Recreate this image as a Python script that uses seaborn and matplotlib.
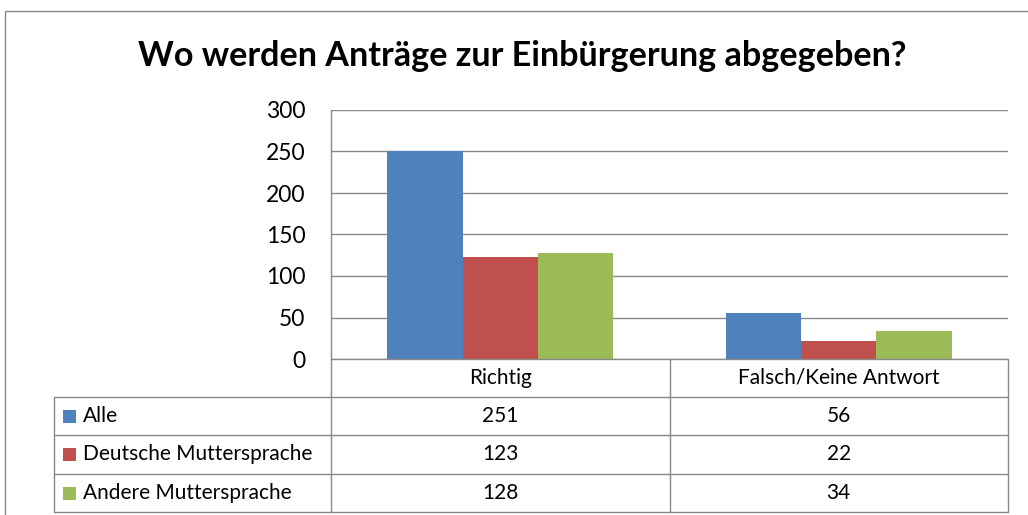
import matplotlib
matplotlib.use("Agg")
import matplotlib.pyplot as plt
import matplotlib.transforms as mtransforms
from matplotlib.lines import Line2D
from matplotlib.patches import Rectangle
import pandas as pd
import seaborn as sns

# Survey data
categories = ["Richtig", "Falsch/Keine Antwort"]
groups = ["Alle", "Deutsche Muttersprache", "Andere Muttersprache"]
alle = [251, 56]
deutsch = [123, 22]
andere = [128, 34]
y_ticks = [0, 50, 100, 150, 200, 250, 300]
title = "Wo werden Anträge zur Einbürgerung abgegeben?"

colors = ["#4F81BD", "#C0504D", "#9BBB59"]
line_col = "#898989"
FONT = "Lato"
TXT = 15

series = [alle, deutsch, andere]
df = pd.DataFrame(
    [(c, g, v[i]) for g, v in zip(groups, series) for i, c in enumerate(categories)],
    columns=["Antwort", "Gruppe", "Anzahl"],
)

sns.set_theme(style="white")
plt.rcParams["font.family"] = [FONT, "DejaVu Sans"]

W, H = 1028, 515
fig = plt.figure(figsize=(W / 100, H / 100), dpi=100)


def fx(px):
    return px / W


def fy(py):
    return 1 - py / H


# plot area
L, R, T, B = 331, 1008, 110, 359
ax = fig.add_axes([fx(L), fy(B), fx(R) - fx(L), fy(T) - fy(B)])
sns.barplot(
    data=df, x="Antwort", y="Anzahl", hue="Gruppe", hue_order=groups,
    order=categories, palette=colors, saturation=1, width=0.667, gap=0,
    linewidth=0, legend=False, ax=ax,
)
ax.set_xlim(-0.5, len(categories) - 0.5)
ax.set_ylim(0, 300)
ax.set_yticks(y_ticks)
ax.set_yticklabels([str(t) for t in y_ticks], fontsize=16.5, color="black")
ax.tick_params(axis="y", length=0, pad=18.5)
ax.set_xticks([])
ax.set_xlabel("")
ax.set_ylabel("")
ax.grid(axis="y", color=line_col, linewidth=1.0)
ax.set_axisbelow(True)
for s in ["top", "right", "bottom"]:
    ax.spines[s].set_visible(False)
ax.spines["left"].set_color(line_col)
ax.spines["left"].set_linewidth(1.0)

# title
fig.text(fx(522), fy(56), title, ha="center", va="center",
         fontsize=24.6, fontweight="bold", color="black")

# outer chart frame
fig.add_artist(Line2D([fx(5), fx(W)], [fy(11), fy(11)], color=line_col, lw=1.0))
fig.add_artist(Line2D([fx(5), fx(5)], [fy(11), fy(H)], color=line_col, lw=1.0))

# data table grid
rows_y = [359, 397, 435, 474, 512]
tbl_left = 54
for i, yy in enumerate(rows_y):
    x0 = L if i == 0 else tbl_left
    fig.add_artist(Line2D([fx(x0), fx(R)], [fy(yy), fy(yy)], color=line_col, lw=1.0))
col_x = [L, (L + R) / 2, R]
for xx in col_x:
    fig.add_artist(Line2D([fx(xx), fx(xx)], [fy(359), fy(512)], color=line_col, lw=1.0))
fig.add_artist(Line2D([fx(tbl_left), fx(tbl_left)], [fy(397), fy(512)], color=line_col, lw=1.0))

# table text: category header centred under each group of bars
blend = mtransforms.blended_transform_factory(ax.transData, fig.transFigure)
row_centres = [(rows_y[k] + rows_y[k + 1]) / 2 for k in range(len(rows_y) - 1)]
for i, c in enumerate(categories):
    ax.text(i, fy(row_centres[0]), c, transform=blend, ha="center", va="center",
            fontsize=TXT, color="black", clip_on=False)
for r, (g, vals, col) in enumerate(zip(groups, series, colors)):
    yc = fy(row_centres[r + 1])
    fig.add_artist(Rectangle((fx(63), yc - 6.5 / H), 13 / W, 13 / H,
                             facecolor=col, edgecolor="none"))
    fig.text(fx(83), yc, g, ha="left", va="center", fontsize=TXT, color="black")
    for i, v in enumerate(vals):
        ax.text(i, yc, str(v), transform=blend, ha="center", va="center",
                fontsize=TXT, color="black", clip_on=False)

fig.savefig("out.png", dpi=100, facecolor="white")
